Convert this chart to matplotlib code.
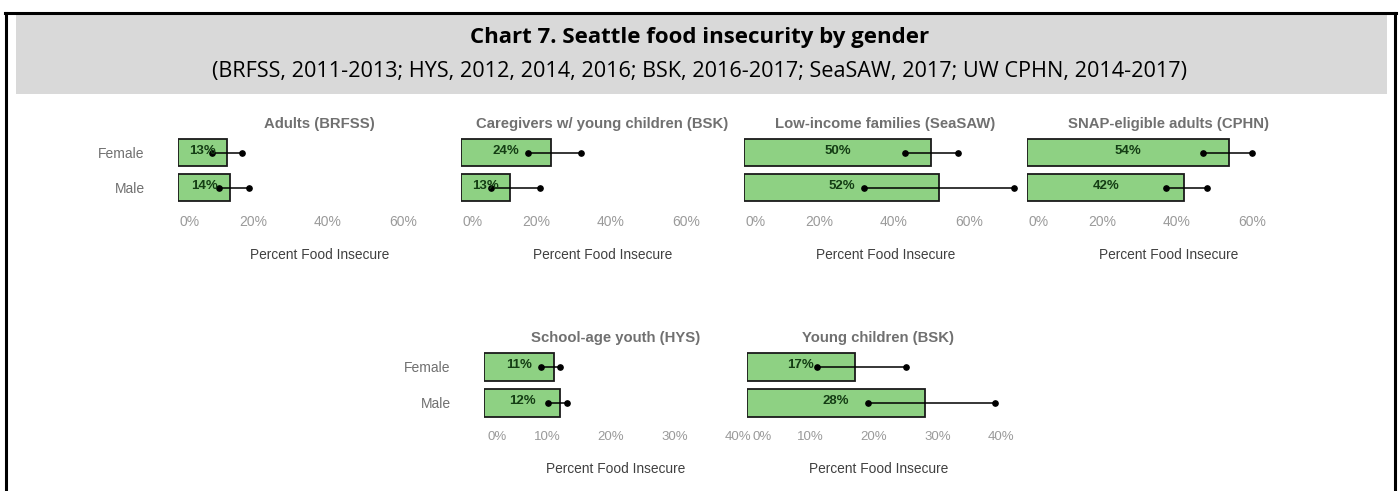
import matplotlib
matplotlib.use("Agg")
import matplotlib.pyplot as plt
import matplotlib.transforms as mtransforms
from matplotlib.patches import Rectangle
from matplotlib.ticker import FuncFormatter

# ---- data ----
panel_titles = ["Adults (BRFSS)", "Caregivers w/ young children (BSK)",
                "Low-income families (SeaSAW)", "SNAP-eligible adults (CPHN)",
                "School-age youth (HYS)", "Young children (BSK)"]
groups = ["Female", "Male"]
female_pct = [13, 24, 50, 54, 11, 17]
male_pct = [14, 13, 52, 42, 12, 28]
female_lo = [9, 18, 43, 47, 9, 11]
female_hi = [17, 32, 57, 60, 12, 25]
male_lo = [11, 8, 32, 37, 10, 19]
male_hi = [19, 21, 72, 48, 13, 39]
top_ticks = [0, 20, 40, 60]
bottom_ticks = [0, 10, 20, 30, 40]

title = "Chart 7. Seattle food insecurity by gender"
subtitle = "(BRFSS, 2011-2013; HYS, 2012, 2014, 2016; BSK, 2016-2017; SeaSAW, 2017; UW CPHN, 2014-2017)"
axis_title = "Percent Food Insecure"

W, H = 1400, 491
fig = plt.figure(figsize=(W / 100, H / 100), dpi=100)
fig.patch.set_facecolor("white")

def fx(x):
    return x / W

def fy(y):
    return 1 - y / H

# outer border (no bottom edge)
fig.add_artist(plt.Line2D([fx(6), fx(6)], [fy(13), 0], color="black", lw=2.2))
fig.add_artist(plt.Line2D([fx(1395), fx(1395)], [fy(13), 0], color="black", lw=2.2))
fig.add_artist(plt.Line2D([fx(5), fx(1396)], [fy(13), fy(13)], color="black", lw=2.2))
# gray title band
fig.add_artist(Rectangle((fx(16), fy(94)), fx(1387 - 16), (94 - 14) / H,
                         facecolor="#d9d9d9", edgecolor="none"))

fig.text(fx(700), fy(38), title, ha="center", va="center",
         fontsize=16, fontweight="bold", family="Open Sans", color="black")
fig.text(fx(700), fy(72), subtitle, ha="center", va="center",
         fontsize=15.6, family="Open Sans", color="black")

BAR_COLOR = "#8ed183"
EDGE = "#1a1a1a"
LABEL_COLOR = "#143d14"
FONT = "Liberation Sans"

# (left px, top px, width px, height px, xmax, ticks, show y labels, tick size, zero shift px)
layout = [
    (178, 135, 283, 70, 75.5, top_ticks, True, 10, 12),
    (461, 135, 283, 70, 75.5, top_ticks, False, 10, 12),
    (744, 135, 283, 70, 75.5, top_ticks, False, 10, 12),
    (1027, 135, 283, 70, 75.5, top_ticks, False, 10, 12),
    (484, 349, 263, 72, 41.4, bottom_ticks, True, 9.5, 13),
    (747, 349, 263, 72, 41.4, bottom_ticks, False, 9.5, 15),
]

for i, (l, t, w, h, xmax, ticks, show_y, tsize, zshift) in enumerate(layout):
    ax = fig.add_axes([fx(l), fy(t + h), w / W, h / H])
    vals = [female_pct[i], male_pct[i]]
    los = [female_lo[i], male_lo[i]]
    his = [female_hi[i], male_hi[i]]
    ypos = list(range(len(groups)))
    ax.barh(ypos, vals, height=0.77, color=BAR_COLOR, edgecolor=EDGE,
            linewidth=1.3, zorder=2)
    for y, v, lo, hi in zip(ypos, vals, los, his):
        ax.plot([lo, hi], [y, y], color="black", lw=1.1, zorder=3)
        ax.plot([lo, hi], [y, y], "o", color="black", ms=3.8, zorder=4)
        ax.text(v / 2, y - 0.05, f"{v}%", ha="center", va="center",
                fontsize=9.5, fontweight="bold", color=LABEL_COLOR,
                family=FONT, zorder=5)
    ax.set_xlim(0, xmax)
    ax.set_ylim(len(groups) - 0.5, -0.5)
    ax.set_xticks(ticks)
    ax.xaxis.set_major_formatter(FuncFormatter(lambda v, p: f"{int(v)}%"))
    ax.set_yticks(ypos)
    ax.set_yticklabels(groups if show_y else [])
    ax.tick_params(axis="x", length=0, pad=7, labelsize=tsize, labelcolor="#9a9a9a")
    ax.tick_params(axis="y", length=0, pad=24, labelsize=10, labelcolor="#707070")
    xlabels = ax.get_xticklabels()
    for lab in xlabels + ax.get_yticklabels():
        lab.set_family(FONT)
    shift = mtransforms.ScaledTranslation(zshift / 100, 0, fig.dpi_scale_trans)
    xlabels[0].set_transform(xlabels[0].get_transform() + shift)
    if show_y:
        for lab in ax.get_yticklabels():
            lab.set_ha("right")
    for s in ax.spines.values():
        s.set_visible(False)
    ax.set_facecolor("none")
    ax.set_title(panel_titles[i], fontsize=10.7, fontweight="bold", color="#707070",
                 family=FONT, pad=5)
    ax.set_xlabel(axis_title, fontsize=9.9, color="#404040", family=FONT, labelpad=14)

fig.savefig("out.png", dpi=100, facecolor="white")
